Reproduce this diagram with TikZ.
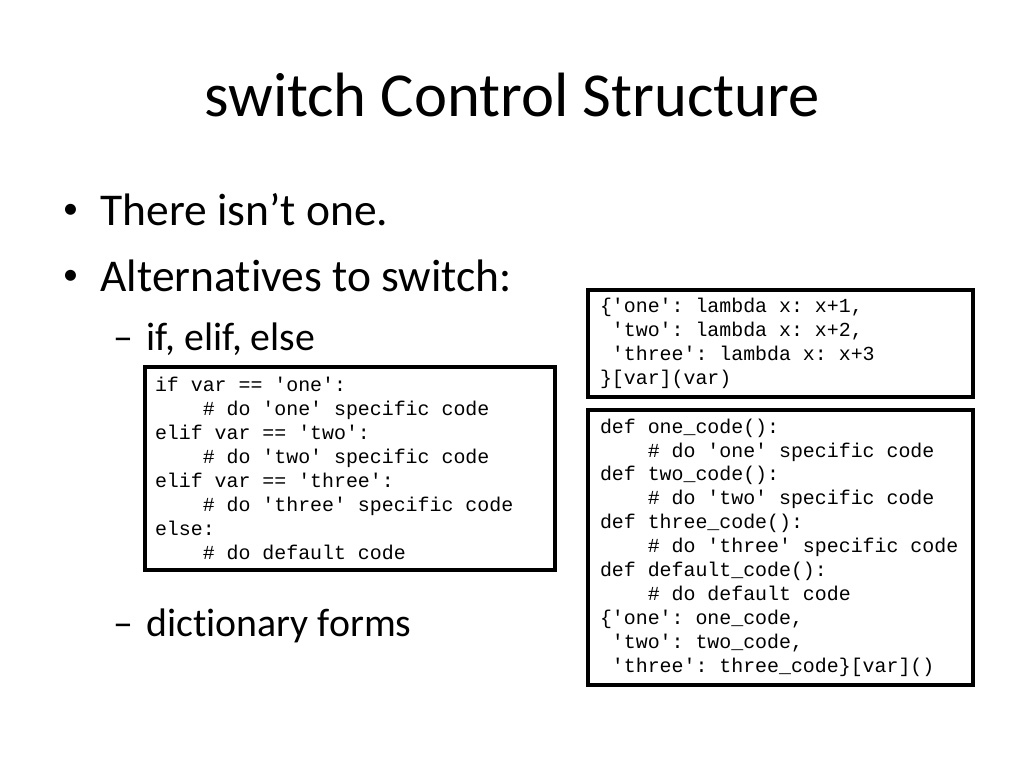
\documentclass[tikz,border=0pt]{standalone}
\usepackage{fontspec}
\setmainfont{Carlito}[Ligatures={TeX,CommonOff}]
\setmonofont{Liberation Mono}
\newcommand\ind{\hspace*{2.4em}}
\newcommand\osp{\hspace*{0.6em}}
\begin{document}
\begin{tikzpicture}[x=1pt,y=-1pt,
  every node/.style={inner sep=0pt, outer sep=0pt},
  titletext/.style={anchor=base, font=\fontsize{62.6}{75}\selectfont},
  lvlone/.style={anchor=base west, font=\fontsize{45.5}{55}\selectfont},
  bulletmark/.style={anchor=center, font=\fontsize{31}{37}\selectfont},
  lvltwo/.style={anchor=base west, font=\fontsize{39.8}{48}\selectfont},
  codebox/.style={draw, line width=3.2pt, align=left,
    font=\fontsize{19.9}{23.9}\selectfont\ttfamily\frenchspacing,
    execute at begin node={\spaceskip=0.6em\relax\xspaceskip=0.6em\relax}}]
\useasboundingbox (0,0) rectangle (1024,768);
\fill[white] (0,0) rectangle (1024,768);

\node[titletext] (title) at (512,116) {switch Control Structure};

\node[bulletmark] (b1) at (70.5,211.7) {•};
\node[lvlone] (t1) at (100.5,225.7) {There isn’t one.};
\node[bulletmark] (b2) at (70.5,277) {•};
\node[lvlone] (t2) at (100.5,291) {Alternatives to switch:};
\node[lvltwo, anchor=base] (d1) at (123,350) {–};
\node[lvltwo] (s1) at (146.5,350) {if, elif, else};
\node[lvltwo, anchor=base] (d2) at (123,636.7) {–};
\node[lvltwo] (s2) at (146.5,636.7) {dictionary forms};

\node[codebox, inner xsep=10pt, text width=390pt, minimum width=410pt,
  minimum height=203pt] (ifbox) at (350,468.5) {%
if var == 'one':\\
\ind\# do 'one' specific code\\
elif var == 'two':\\
\ind\# do 'two' specific code\\
elif var == 'three':\\
\ind\# do 'three' specific code\\
else:\\
\ind\# do default code};

\node[codebox, inner xsep=12pt, text width=361pt, minimum width=385pt,
  minimum height=107pt] (lambdabox) at (780.5,343.5) {%
\{'one': lambda x: x+1,\\
\osp'two': lambda x: x+2,\\
\osp'three': lambda x: x+3\\
\}[var](var)};

\node[codebox, inner xsep=12pt, text width=361pt, minimum width=385pt,
  minimum height=275pt] (defbox) at (780.5,547.5) {%
def one\_code():\\
\ind\# do 'one' specific code\\
def two\_code():\\
\ind\# do 'two' specific code\\
def three\_code():\\
\ind\# do 'three' specific code\\
def default\_code():\\
\ind\# do default code\\
\{'one': one\_code,\\
\osp'two': two\_code,\\
\osp'three': three\_code\}[var]()};
\end{tikzpicture}
\end{document}
